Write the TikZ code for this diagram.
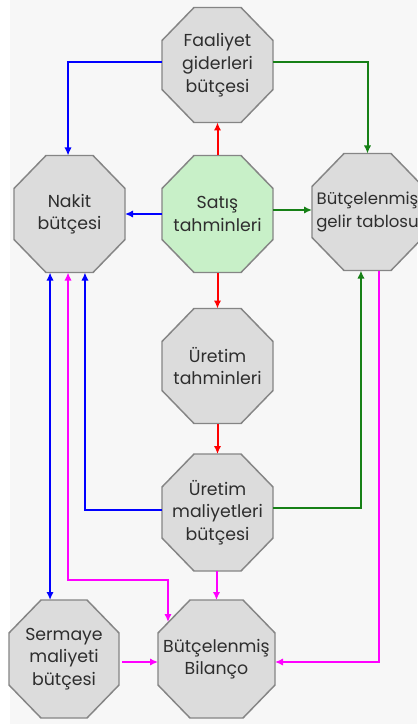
\documentclass[tikz,border=0pt]{standalone}
\usepackage{fontspec}
\setmainfont{Poppins}
\usetikzlibrary{arrows.meta,backgrounds}

\definecolor{pagebg}{HTML}{F7F7F7}
\definecolor{boxfill}{HTML}{DCDCDC}
\definecolor{salesfill}{HTML}{C8F0C8}
\definecolor{boxline}{HTML}{858585}
\definecolor{labeltext}{HTML}{2E2E2E}
\definecolor{flowblue}{HTML}{0000FF}
\definecolor{flowgreen}{HTML}{168016}
\definecolor{flowred}{HTML}{FF0000}
\definecolor{flowmag}{HTML}{FF00FF}

% octagon drawn around a (rectangular, invisible) node
\newcommand\octagonaround[2]{%
  \path[octline, fill=#2]
    ([xshift=24pt]#1.north west) -- ([xshift=-24pt]#1.north east)
    -- ([yshift=-24.75pt]#1.north east) -- ([yshift=24.75pt]#1.south east)
    -- ([xshift=-24pt]#1.south east) -- ([xshift=24pt]#1.south west)
    -- ([yshift=24.75pt]#1.south west) -- ([yshift=-24.75pt]#1.north west)
    -- cycle;}

\begin{document}
\begin{tikzpicture}[x=0.75pt, y=-0.75pt,
  octbox/.style={minimum width=83.25pt, minimum height=87.75pt,
    inner sep=0pt, outer sep=0pt, align=center, text=labeltext,
    font=\fontsize{13}{17}\selectfont},
  octline/.style={draw=boxline, line width=1.1pt},
  flow/.style={line width=1.5pt, ->},
  >={Latex[length=6pt,width=5.5pt]}]
\useasboundingbox (0,0) rectangle (417,727);
\clip (0,0) rectangle (417,727);

% boxes
\node[octbox, minimum height=86.25pt] (fa) at (217.5,65) {Faaliyet\\giderleri\\bütçesi};
\node[octbox] (na) at (69.5,214) {Nakit\\bütçesi};
\node[octbox] (sa) at (217.5,214) {Satış\\tahminleri};
\node[octbox, font=\fontsize{12.4}{17}\selectfont] (ge) at (367.5,212) {Bütçelenmiş\\gelir tablosu};
\node[octbox, minimum height=86.25pt] (ut) at (217.5,366) {Üretim\\tahminleri};
\node[octbox] (um) at (217.5,512.5) {Üretim\\maliyetleri\\bütçesi};
\node[octbox, minimum width=82.5pt, minimum height=88.5pt] (se) at (64,659) {Sermaye\\maliyeti\\bütçesi};
\node[octbox, minimum width=87.75pt, minimum height=88.5pt] (bi) at (216.5,659) {Bütçelenmiş\\Bilanço};

\begin{pgfonlayer}{background}
  \fill[white] (0,0) rectangle (417,727);
  \fill[pagebg] (10,0) rectangle (417,724);
  \octagonaround{fa}{boxfill}
  \octagonaround{na}{boxfill}
  \octagonaround{sa}{salesfill}
  \octagonaround{ge}{boxfill}
  \octagonaround{ut}{boxfill}
  \octagonaround{um}{boxfill}
  \octagonaround{se}{boxfill}
  \octagonaround{bi}{boxfill}
\end{pgfonlayer}

% sales forecast outputs
\draw[flow, flowred] (sa.north) -- (fa.south);
\draw[flow, flowblue] (sa.west) -- (na.east);
\draw[flow, flowgreen] ([yshift=3pt]sa.east) -- ([yshift=1.5pt]ge.west);
\draw[flow, flowred] (sa.south) -- (ut.north);
\draw[flow, flowred] (ut.south) -- (um.north);

% operating expenses budget
\draw[flow, flowblue] ([yshift=2.25pt]fa.west) -| ([xshift=-1.1pt]na.north);
\draw[flow, flowgreen] ([yshift=2.25pt]fa.east) -| (ge.north);

% production cost budget
\draw[flow, flowblue] ([yshift=1.9pt]um.west) -| ([xshift=11.6pt]na.south);
\draw[flow, flowgreen] ([yshift=3.4pt]um.east) -| ([xshift=-4.9pt]ge.south);
\draw[flow, flowmag] ([xshift=-0.75pt]um.south) -- ([xshift=-0.75pt]um.south |- bi.north);

% cash budget <-> capital budget
\coordinate (nb) at ([xshift=-14.6pt]na.south);
\draw[flow, flowblue, <->] (nb) -- (nb |- se.north);

% cash budget <-> balance sheet
\coordinate (nm) at ([xshift=-1.1pt]na.south);
\coordinate (mk) at (nm |- 0,580);
\coordinate (bm) at ([shift={(7.5pt,-16.5pt)}]bi.north west);
\draw[flow, flowmag, <->] (nm) -- (mk) -| (bm);

% into the balance sheet
\draw[flow, flowmag, shorten <=2.25pt] ([yshift=-2.25pt]se.east) -- ([yshift=-2.25pt]bi.west);
\coordinate (gm) at ([xshift=8.6pt]ge.south);
\draw[flow, flowmag] (gm) |- ([yshift=-2.25pt]bi.east);
\end{tikzpicture}
\end{document}
